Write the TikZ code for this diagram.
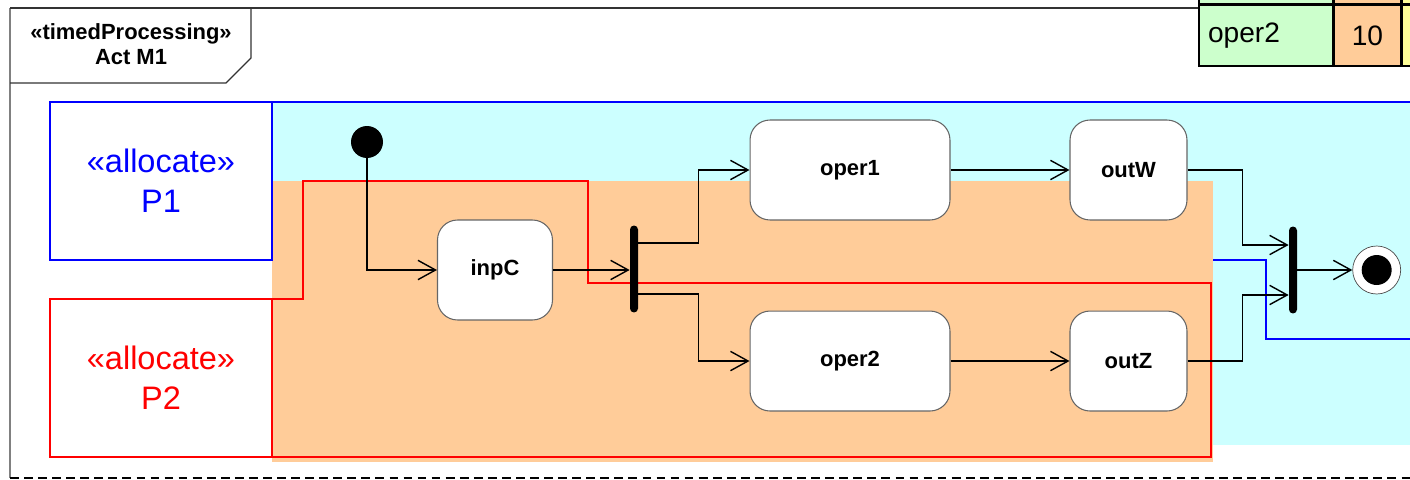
\documentclass[tikz,border=0pt]{standalone}
\usepackage{fontspec}
\setmainfont{Liberation Sans}
\usepackage{xcolor}
\usetikzlibrary{positioning, arrows.meta, calc}

\definecolor{lanecyan}{HTML}{CCFFFF}
\definecolor{laneorange}{HTML}{FFCC99}
\definecolor{cellgreen}{HTML}{CCFFCC}
\definecolor{cellyellow}{HTML}{FFFF99}

\begin{document}
\begin{tikzpicture}[
    x=0.02cm, y=-0.02cm,
    action/.style={rectangle, draw=black!60, rounded corners=0.4cm, fill=white,
                   minimum height=2cm, minimum width=4cm, align=center,
                   font=\fontsize{12.5}{15}\selectfont\bfseries, line width=0.6pt},
    bar/.style={rectangle, fill=black, minimum width=0.16cm, minimum height=1.74cm,
                rounded corners=0.08cm, inner sep=0pt},
    initial/.style={circle, fill=black, minimum size=0.64cm, inner sep=0pt},
    final/.style={circle, draw=black!70, fill=white, minimum size=0.96cm, inner sep=0pt,
                  path picture={\fill[black] (path picture bounding box.center) circle (0.3cm);}},
    partbox/.style={rectangle, line width=1.1pt, minimum width=4.44cm, minimum height=3.16cm,
                    align=center, font=\fontsize{18.5}{22.7}\selectfont},
    cell/.style={rectangle, draw, line width=0.8pt, minimum height=1.22cm, inner xsep=0.18cm,
                 font=\fontsize{16}{19}\selectfont},
    flow/.style={-{Straight Barb[length=10pt, width=11pt]}, line width=0.8pt},
]
\useasboundingbox (0,0) rectangle (1410,480);
\clip (0,0) rectangle (1410,480);

% Frame
\draw[gray, line width=1.2pt] (10,8) -- (10,478);
\draw[black!80, line width=1pt] (10,8) -- (1200,8);
\draw[dashed, dash pattern=on 5pt off 3pt, line width=0.8pt] (10,478) -- (1420,478);
\draw[black!80, line width=0.7pt] (10,8) -- (251,8) -- (251,58) -- (226,83) -- (10,83);
\node[align=center, font=\fontsize{12.5}{14.2}\selectfont\bfseries] (title) at (131,44)
    {«timedProcessing»\\Act M1};

% Allocation regions
\fill[lanecyan] (272,102) rectangle (1420,445);
\draw[blue, line width=1.1pt] (272,102) -- (1420,102);
\draw[blue, line width=1.1pt] (272,260) -- (1266,260) -- (1266,339) -- (1420,339);
\fill[laneorange] (272,181) rectangle (1213,462);
\draw[red, line width=1.1pt] (272,299) -- (303,299) -- (303,181) -- (588,181) -- (588,283)
    -- (1211,283) -- (1211,457) -- (272,457);

\node[partbox, draw=blue, text=blue] (P1) at (161,181) {«allocate»\\P1};
\node[partbox, draw=red, text=red] (P2) at (161,378) {«allocate»\\P2};

% Timing table
\node[cell, fill=cellgreen, text width=2.32cm, align=left] (tname) at (1266,35.5) {oper2};
\node[cell, fill=laneorange, minimum width=1.32cm, right=0pt of tname] (tval) {10};
\node[cell, fill=cellyellow, minimum width=1.32cm, right=0pt of tval] (tnext) {};
\node[cell, fill=cellgreen, text width=2.32cm, above=0pt of tname] (tname0) {};
\node[cell, fill=laneorange, minimum width=1.32cm, above=0pt of tval] (tval0) {};
\node[cell, fill=cellyellow, minimum width=1.32cm, above=0pt of tnext] (tnext0) {};

% Actions
\node[initial] (start) at (367,142) {};
\node[action, minimum width=2.3cm] (inpC) at (495,270) {inpC};
\node[bar] (fork) at (634,269) {};
\node[action] (oper1) at (850,170) {oper1};
\node[action, below=1.8cm of oper1] (oper2) {oper2};
\node[action, minimum width=2.34cm, right=2.38cm of oper1] (outW) {outW};
\node[action, minimum width=2.34cm, right=2.38cm of oper2] (outZ) {outZ};
\node[bar] (join) at (1293,270) {};
\node[final, right=1.1cm of join] (stop) {};

% Arrows
\draw[flow] (start) |- (inpC.west);
\draw[flow] (inpC.east) -- (inpC.east -| fork.west);
\draw[flow] ([yshift=0.52cm]fork.east) -- ++(60,0) |- (oper1.west);
\draw[flow] ([yshift=-0.5cm]fork.east) -- ++(60,0) |- (oper2.west);
\draw[flow] (oper1) -- (outW);
\draw[flow] (oper2) -- (outZ);
\draw[flow] (outW.east) -- ++(55,0) |- ([yshift=0.5cm]join.west);
\draw[flow] (outZ.east) -- ++(55,0) |- ([yshift=-0.5cm]join.west);
\draw[flow] (join) -- (stop);

\end{tikzpicture}
\end{document}
